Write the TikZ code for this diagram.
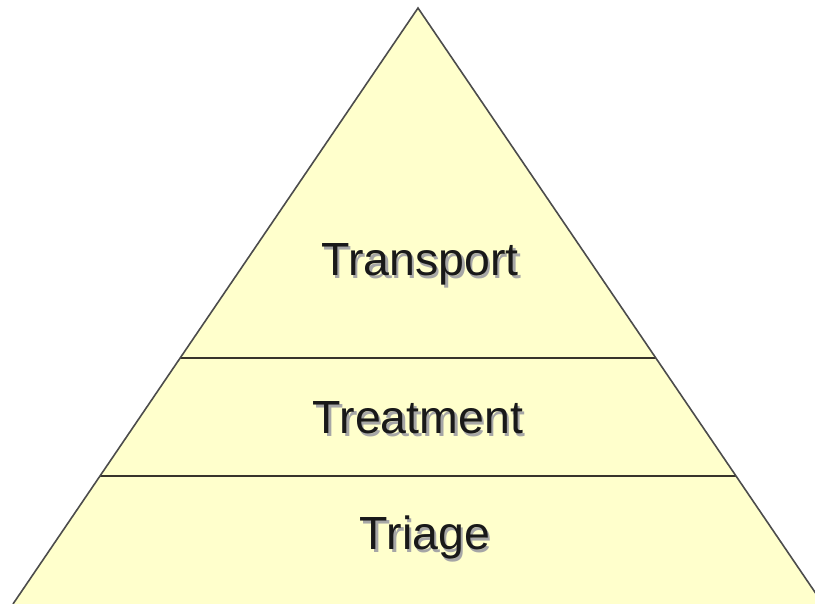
\documentclass[tikz,border=0pt]{standalone}
\usepackage{fontspec}
\setmainfont{Liberation Sans}
\newcommand{\shadowtext}[1]{{\color{black!35}\rlap{\hspace{2.5pt}\raisebox{-2.5pt}{#1}}}#1}
\begin{document}
\begin{tikzpicture}[x=1pt,y=-1pt,
  lbl/.style={font=\fontsize{46.5}{50}\selectfont,text=black!90,inner sep=0pt},
  divline/.style={draw=black!80!olive,line width=1.4pt},
  sideline/.style={draw=black!70,line width=1.6pt}]
\definecolor{pyr}{RGB}{255,255,204}
\useasboundingbox (0,0) rectangle (815,604);
\clip (0,0) rectangle (815,604);
\coordinate (apex) at (418,8);
\coordinate (bl) at (13,604);
\coordinate (br) at (823,604);
\fill[pyr] (apex) -- (bl) -- (br) -- cycle;
\coordinate (l1a) at (180,358);
\coordinate (l1b) at (656,358);
\coordinate (l2a) at (100,476);
\coordinate (l2b) at (736,476);
\draw[divline] (l1a) -- (l1b);
\draw[divline] (l2a) -- (l2b);
\draw[sideline] (bl) -- (apex) -- (br);
\node[lbl] (t1) at (420,266) {\shadowtext{Transport}};
\node[lbl] (t2) at (418,419) {\shadowtext{Treatment}};
\node[lbl] (t3) at (425,539) {\shadowtext{Triage}};
\end{tikzpicture}
\end{document}
